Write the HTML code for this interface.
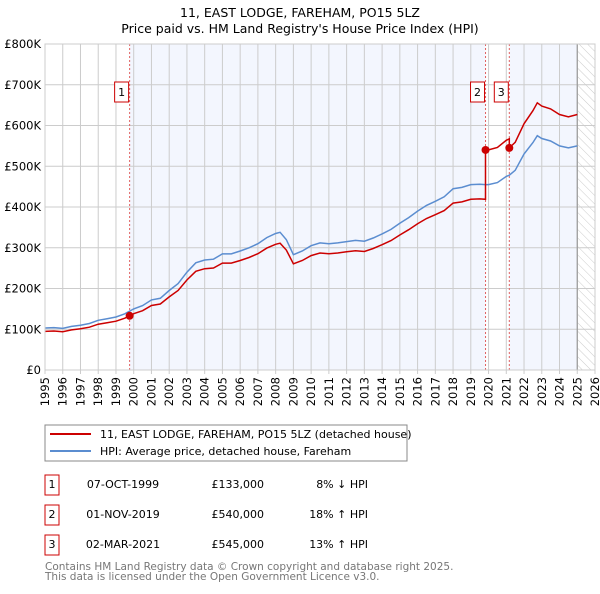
<!DOCTYPE html>
<html><head><meta charset="utf-8"><style>
body{margin:0;background:#fff;font-family:"DejaVu Sans","Liberation Sans",sans-serif}
svg text{font-family:"DejaVu Sans","Liberation Sans",sans-serif}
</style></head><body>
<svg id="c" width="600" height="590" xmlns="http://www.w3.org/2000/svg">
<defs><pattern id="hatch" width="6" height="6" patternUnits="userSpaceOnUse" patternTransform="rotate(-45)"><line x1="0" y1="0" x2="0" y2="6" stroke="#ccc" stroke-width="1"/></pattern></defs>
<text x="300" y="17" text-anchor="middle" font-size="12.5">11, EAST LODGE, FAREHAM, PO15 5LZ</text>
<text x="300" y="33" text-anchor="middle" font-size="12.5">Price paid vs. HM Land Registry's House Price Index (HPI)</text>
<g id="plot"></g>
<rect x="45" y="425" width="362" height="36" fill="#fff" stroke="#888"/>
<line x1="50" y1="434" x2="91" y2="434" stroke="#cc0000" stroke-width="2"/>
<text x="100" y="438" font-size="11">11, EAST LODGE, FAREHAM, PO15 5LZ (detached house)</text>
<line x1="50" y1="451" x2="91" y2="451" stroke="#5b8dd0" stroke-width="2"/>
<text x="100" y="455" font-size="11">HPI: Average price, detached house, Fareham</text>
<g font-size="11">
<rect x="45" y="475" width="14" height="20" fill="none" stroke="#cc0000"/><text x="52" y="488" text-anchor="middle">1</text>
<text x="123" y="488" text-anchor="middle">07-OCT-1999</text><text x="264" y="488" text-anchor="end">£133,000</text><text x="368" y="488" text-anchor="end">8% ↓ HPI</text>
<rect x="45" y="505" width="14" height="20" fill="none" stroke="#cc0000"/><text x="52" y="518" text-anchor="middle">2</text>
<text x="123" y="518" text-anchor="middle">01-NOV-2019</text><text x="264" y="518" text-anchor="end">£540,000</text><text x="368" y="518" text-anchor="end">18% ↑ HPI</text>
<rect x="45" y="535" width="14" height="20" fill="none" stroke="#cc0000"/><text x="52" y="548" text-anchor="middle">3</text>
<text x="123" y="548" text-anchor="middle">02-MAR-2021</text><text x="264" y="548" text-anchor="end">£545,000</text><text x="368" y="548" text-anchor="end">13% ↑ HPI</text>
</g>
<text x="45" y="570" font-size="10.5" fill="#777">Contains HM Land Registry data © Crown copyright and database right 2025.</text>
<text x="45" y="580" font-size="10.5" fill="#777">This data is licensed under the Open Government Licence v3.0.</text>
</svg>
<script>
const hpiYears=[1995,1995.5,1996,1996.5,1997,1997.5,1998,1998.5,1999,1999.5,2000,2000.5,2001,2001.5,2002,2002.5,2003,2003.5,2004,2004.5,2005,2005.5,2006,2006.5,2007,2007.5,2008,2008.25,2008.6,2009,2009.5,2010,2010.5,2011,2011.5,2012,2012.5,2013,2013.5,2014,2014.5,2015,2015.5,2016,2016.5,2017,2017.5,2018,2018.5,2019,2019.5,2019.83,2020,2020.5,2021,2021.17,2021.5,2022,2022.5,2022.75,2023,2023.5,2024,2024.5,2025];
const hpiValues=[103,104,102,107,110,114,122,126,130,138,150,158,172,176,195,212,240,263,270,272,285,285,292,300,310,325,335,338,320,283,292,305,312,310,312,315,318,316,324,334,345,360,374,390,404,414,425,445,448,455,456,455,455,460,475,478,490,530,558,575,568,562,550,545,550];
const saleYears=[1999.77,2019.83,2021.17];
const salePrices=[133,540,545];
const yTicks=[0,100,200,300,400,500,600,700,800];
const yTickLabels=["£0","£100K","£200K","£300K","£400K","£500K","£600K","£700K","£800K"];
const xTicks=[1995,1996,1997,1998,1999,2000,2001,2002,2003,2004,2005,2006,2007,2008,2009,2010,2011,2012,2013,2014,2015,2016,2017,2018,2019,2020,2021,2022,2023,2024,2025,2026];

const X0=45,X1=595,Y0=370,Y1=44,dataEnd=2025.0;
const xs=v=>X0+(v-1995)/(2026-1995)*(X1-X0);
const ys=v=>Y0-(v/800)*(Y0-Y1);
const g=document.getElementById('plot');
const NS='http://www.w3.org/2000/svg';
function mk(t,a){const e=document.createElementNS(NS,t);for(const k in a)e.setAttribute(k,a[k]);g.appendChild(e);return e;}
function hpiAt(y){for(let i=0;i<hpiYears.length-1;i++){if(y>=hpiYears[i]&&y<=hpiYears[i+1]){const f=(y-hpiYears[i])/(hpiYears[i+1]-hpiYears[i]);return hpiValues[i]+f*(hpiValues[i+1]-hpiValues[i]);}}return hpiValues[hpiValues.length-1];}

let e;
e=mk('rect',{x:X0,y:Y1,width:X1-X0,height:Y0-Y1,fill:'#fff'});


e=mk('rect',{x:xs(saleYears[0]),y:Y1,width:xs(saleYears[1])-xs(saleYears[0]),height:Y0-Y1,fill:'#f3f6fe'});


e=mk('rect',{x:xs(saleYears[2]),y:Y1,width:xs(dataEnd)-xs(saleYears[2]),height:Y0-Y1,fill:'#f3f6fe'});


e=mk('rect',{x:xs(dataEnd),y:Y1,width:X1-xs(dataEnd),height:Y0-Y1,fill:'url(#hatch)'});


yTicks.forEach((t,i)=>{
  e=mk('line',{x1:X0,x2:X1,y1:ys(t),y2:ys(t),stroke:'#ccc','stroke-width':1});
  
  
  e=mk('text',{x:X0-4,y:ys(t)+4,'text-anchor':'end','font-size':11.5});
  e.textContent=yTickLabels[i];
  
  
});
xTicks.forEach(t=>{
  e=mk('line',{x1:xs(t),x2:xs(t),y1:Y1,y2:Y0+4,stroke:'#ccc','stroke-width':1});
  
  
  const lx=xs(t)+4, ly=Y0+7;
  e=mk('text',{x:lx,y:ly,'text-anchor':'end','font-size':11.5,transform:'rotate(-90 '+lx+' '+ly+')'});
  e.textContent=String(t);
  
  
});
e=mk('line',{x1:xs(dataEnd),x2:xs(dataEnd),y1:Y1,y2:Y0,stroke:'#999','stroke-width':1.2});


saleYears.forEach((s,i)=>{
  e=mk('line',{x1:xs(s),x2:xs(s),y1:Y1,y2:Y0,stroke:'#e06060','stroke-width':1,'stroke-dasharray':'2,2'});
  
  
});
let d=hpiYears.map((y,i)=>(i?'L':'M')+xs(y).toFixed(1)+','+ys(hpiValues[i]).toFixed(1)).join(' ');
e=mk('path',{d:d,fill:'none',stroke:'#5b8dd0','stroke-width':1.5});


function ratioAt(y){let k=0;for(let i=0;i<saleYears.length;i++)if(y>=saleYears[i])k=i;return salePrices[k]/hpiAt(saleYears[k]);}
const pts=[];
const all=hpiYears.concat(saleYears).sort((a,b)=>a-b);
all.forEach(y=>{
  const idx=saleYears.indexOf(y);
  if(idx>0){const prev=salePrices[idx-1]/hpiAt(saleYears[idx-1]);pts.push([y,hpiAt(y)*prev]);}
  pts.push([y,hpiAt(y)*ratioAt(y)]);
});
d=pts.map((p,i)=>(i?'L':'M')+xs(p[0]).toFixed(1)+','+ys(p[1]).toFixed(1)).join(' ');
e=mk('path',{d:d,fill:'none',stroke:'#cc0000','stroke-width':1.5});


saleYears.forEach((s,i)=>{
  e=mk('circle',{cx:xs(s),cy:ys(salePrices[i]),r:4,fill:'#cc0000'});
  
  
  e=mk('rect',{x:xs(s)-15,y:82,width:14,height:20,fill:'#fff',stroke:'#cc0000'});
  
  
  e=mk('text',{x:xs(s)-8,y:96,'text-anchor':'middle','font-size':11});
  e.textContent=String(i+1);
  
  
});
e=mk('rect',{x:X0,y:Y1,width:X1-X0,height:Y0-Y1,fill:'none',stroke:'#ccc'});


</script>
</body></html>
